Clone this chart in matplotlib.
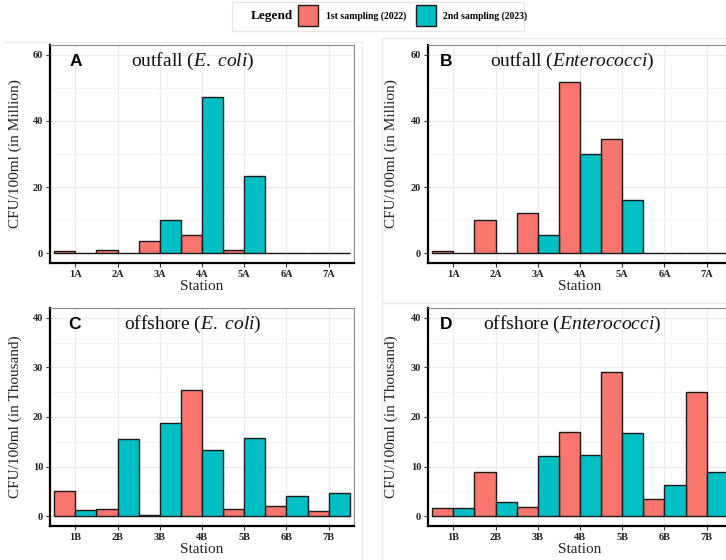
import numpy as np
import matplotlib
matplotlib.use('Agg')
import matplotlib.pyplot as plt
from matplotlib.patches import Rectangle
from matplotlib.lines import Line2D

plt.rcParams['font.family'] = 'Liberation Serif'
plt.rcParams['mathtext.fontset'] = 'custom'
plt.rcParams['mathtext.rm'] = 'Liberation Serif'
plt.rcParams['mathtext.it'] = 'Liberation Serif:italic'

RED = '#F8766D'
TEAL = '#00BFC4'

stations_a = ['1A', '2A', '3A', '4A', '5A', '6A', '7A']
stations_b = ['1B', '2B', '3B', '4B', '5B', '6B', '7B']

# outfall, CFU/100ml in million
ecoli_out_2022 = [0.7, 0.9, 3.7, 5.6, 1.0, 0, 0]
ecoli_out_2023 = [0, 0, 10.1, 47.2, 23.2, 0, 0]
ent_out_2022 = [0.7, 10.0, 12.2, 51.7, 34.5, 0, 0]
ent_out_2023 = [0, 0, 5.6, 30.0, 16.1, 0, 0]

# offshore, CFU/100ml in thousand
ecoli_off_2022 = [5.1, 1.5, 0.15, 25.5, 1.5, 2.0, 1.0]
ecoli_off_2023 = [1.3, 15.6, 18.8, 13.4, 15.8, 4.0, 4.6]
ent_off_2022 = [1.6, 8.8, 1.75, 17.0, 29.0, 3.5, 25.0]
ent_off_2023 = [1.7, 2.8, 12.05, 12.25, 16.8, 6.3, 9.0]

W, H = 726, 560
fig = plt.figure(figsize=(W / 100, H / 100), dpi=100)


def px_axes(left, top, right, bottom):
    return fig.add_axes([left / W, 1 - bottom / H, (right - left) / W, (bottom - top) / H])


def panel(ax, labels, v1, v2, ymax, step, letter, title, ylab, lx, tx, ylx):
    x = np.arange(len(labels))
    ax.bar(x - 0.25, v1, width=0.5, color=RED, edgecolor='#1a1a1a', linewidth=1.0, zorder=3)
    ax.bar(x + 0.25, v2, width=0.5, color=TEAL, edgecolor='#1a1a1a', linewidth=1.0, zorder=3)
    ax.set_xlim(-0.6, len(labels) - 0.4)
    ax.set_ylim(-ymax * 0.05, ymax * 1.05)
    ax.set_xticks(x)
    ax.set_xticklabels(labels)
    ax.set_yticks(np.arange(0, ymax + 1, step))
    ax.set_yticks(np.arange(step / 2, ymax, step), minor=True)
    ax.grid(True, which='major', color='#EBEBEB', linewidth=1.0, zorder=0)
    ax.grid(True, which='minor', axis='y', color='#F3F3F3', linewidth=0.6, zorder=0)
    ax.set_axisbelow(True)
    for s in ['top', 'right']:
        ax.spines[s].set_color('#8a8a8a')
        ax.spines[s].set_linewidth(0.8)
    for s in ['left', 'bottom']:
        ax.spines[s].set_color('black')
        ax.spines[s].set_linewidth(1.6)
    ax.tick_params(axis='both', which='major', length=3, width=0.8, color='#333333',
                   labelsize=7.5, labelcolor='#222222', pad=2)
    ax.tick_params(axis='y', which='minor', length=0)
    for t in ax.get_xticklabels() + ax.get_yticklabels():
        t.set_fontweight('bold')
    ax.set_xlabel('Station', fontsize=11, labelpad=1, color='#222222')
    ax.set_ylabel(ylab, fontsize=11, color='#222222')
    ax.yaxis.set_label_coords(ylx, 0.5)
    ax.text(lx, 0.925, letter, transform=ax.transAxes, fontsize=12.5, fontweight='bold',
            family='Liberation Sans', ha='center', va='center')
    ax.text(tx, 0.925, title, transform=ax.transAxes, fontsize=14, ha='center', va='center',
            color='#111111')


axA = px_axes(50, 45, 354, 263)
axB = px_axes(428, 45, 732, 263)
axC = px_axes(50, 308, 354, 526)
axD = px_axes(428, 308, 732, 526)

panel(axA, stations_a, ecoli_out_2022, ecoli_out_2023, 60, 20, 'A',
      r'outfall ($\mathit{E.\ coli}$)', 'CFU/100ml (in Million)', 0.086, 0.47, -0.092)
panel(axB, stations_a, ent_out_2022, ent_out_2023, 60, 20, 'B',
      r'outfall ($\mathit{Enterococci}$)', 'CFU/100ml (in Million)', 0.06, 0.474, -0.099)
panel(axC, stations_b, ecoli_off_2022, ecoli_off_2023, 40, 10, 'C',
      r'offshore ($\mathit{E.\ coli}$)', 'CFU/100ml (in Thousand)', 0.079, 0.47, -0.092)
panel(axD, stations_b, ent_off_2022, ent_off_2023, 40, 10, 'D',
      r'offshore ($\mathit{Enterococci}$)', 'CFU/100ml (in Thousand)', 0.06, 0.474, -0.099)

# faint borders of the combined sub-images
def fline(x0, y0, x1, y1):
    fig.add_artist(Line2D([x0 / W, x1 / W], [1 - y0 / H, 1 - y1 / H],
                          color='#EAEAEA', linewidth=1.0))

fline(5, 42, 362, 42)
fline(362, 42, 362, 560)
fline(382, 38, 726, 38)
fline(382, 38, 382, 560)
fline(382, 303, 726, 303)

# legend box
fig.add_artist(Rectangle((232 / W, 1 - 31 / H), 292 / W, 29 / H, transform=fig.transFigure,
                         facecolor='white', edgecolor='#E6E6E6', linewidth=1.0))
fig.text(272 / W, 1 - 16 / H, 'Legend', fontsize=9.5, fontweight='bold', ha='center', va='center')
fig.add_artist(Rectangle((298 / W, 1 - 26 / H), 20 / W, 21 / H, transform=fig.transFigure,
                         facecolor=RED, edgecolor='#1a1a1a', linewidth=1.0))
fig.text(326 / W, 1 - 16 / H, '1st sampling (2022)', fontsize=7, fontweight='bold', ha='left', va='center')
fig.add_artist(Rectangle((416 / W, 1 - 26 / H), 20 / W, 21 / H, transform=fig.transFigure,
                         facecolor=TEAL, edgecolor='#1a1a1a', linewidth=1.0))
fig.text(443 / W, 1 - 16 / H, '2nd sampling (2023)', fontsize=7, fontweight='bold', ha='left', va='center')

fig.savefig('out.png', dpi=100)
